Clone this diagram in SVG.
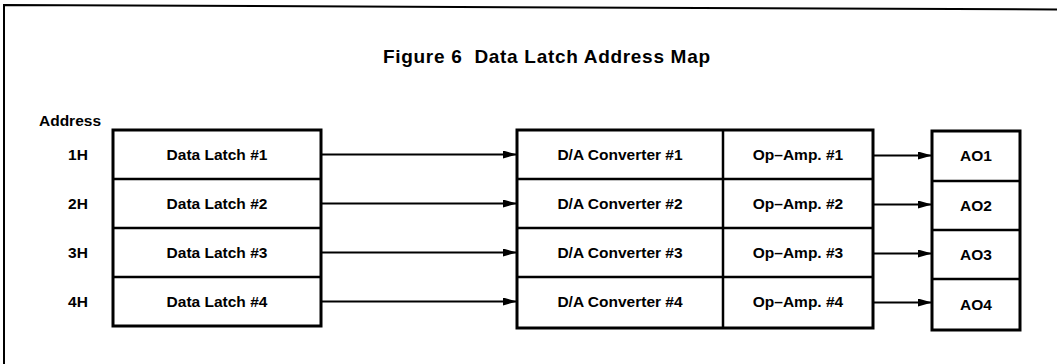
<svg xmlns="http://www.w3.org/2000/svg" width="1057" height="364" viewBox="0 0 1057 364">
  <defs>
    <style>
      .t { font-family: "Liberation Sans", Arial, sans-serif; font-weight: bold; font-size: 15.5px; fill: #000; text-anchor: middle; }
      .title { font-family: "Liberation Sans", Arial, sans-serif; font-weight: bold; font-size: 19px; fill: #000; white-space: pre; }
      .box { fill: #fff; stroke: #000; stroke-width: 3; }
      .div { stroke: #000; stroke-width: 2.5; fill: none; }
      .arrow { stroke: #000; stroke-width: 2; fill: none; marker-end: url(#ah); }
      .frame { stroke: #000; stroke-width: 2; fill: none; }
    </style>
    <marker id="ah" markerWidth="14" markerHeight="8" refX="14" refY="4" orient="auto" markerUnits="userSpaceOnUse">
      <path d="M0,0 L14,4 L0,8 Z" fill="#000"/>
    </marker>
  </defs>
  <rect width="1057" height="364" fill="#fff"/>
  <g id="frame">
    <path class="frame" d="M1057,9.5 L4,5 L4,364"/>
  </g>
  <text class="title" x="383" y="63" textLength="327" lengthAdjust="spacing" xml:space="preserve">Figure 6  Data Latch Address Map</text>
  <g id="address-labels">
    <text class="t" x="70" y="126">Address</text>
    <text class="t" x="78" y="160">1H</text>
    <text class="t" x="78" y="209">2H</text>
    <text class="t" x="78" y="258">3H</text>
    <text class="t" x="78" y="307">4H</text>
  </g>
  <g id="data-latches">
    <rect class="box" x="113" y="130" width="208" height="196"/>
    <path class="div" d="M113,179 H321 M113,228 H321 M113,277 H321"/>
    <text class="t" x="217" y="160">Data Latch #1</text>
    <text class="t" x="217" y="209">Data Latch #2</text>
    <text class="t" x="217" y="258">Data Latch #3</text>
    <text class="t" x="217" y="307">Data Latch #4</text>
  </g>
  <g id="converters">
    <rect class="box" x="517" y="130" width="356" height="198"/>
    <path class="div" d="M723,130 V328 M517,179 H873 M517,228 H873 M517,277 H873"/>
    <text class="t" x="620" y="160">D/A Converter #1</text>
    <text class="t" x="620" y="209">D/A Converter #2</text>
    <text class="t" x="620" y="258">D/A Converter #3</text>
    <text class="t" x="620" y="307">D/A Converter #4</text>
    <text class="t" x="798" y="160">Op–Amp. #1</text>
    <text class="t" x="798" y="209">Op–Amp. #2</text>
    <text class="t" x="798" y="258">Op–Amp. #3</text>
    <text class="t" x="798" y="307">Op–Amp. #4</text>
  </g>
  <g id="outputs">
    <rect class="box" x="932" y="131" width="88" height="199"/>
    <path class="div" d="M932,181 H1020 M932,230 H1020 M932,279 H1020"/>
    <text class="t" x="976" y="161">AO1</text>
    <text class="t" x="976" y="211">AO2</text>
    <text class="t" x="976" y="260">AO3</text>
    <text class="t" x="976" y="310">AO4</text>
  </g>
  <g id="connectors">
    <line class="arrow" x1="321" y1="154.5" x2="517" y2="154.5"/>
    <line class="arrow" x1="321" y1="203.5" x2="517" y2="203.5"/>
    <line class="arrow" x1="321" y1="252.5" x2="517" y2="252.5"/>
    <line class="arrow" x1="321" y1="301.5" x2="517" y2="301.5"/>
    <line class="arrow" x1="873" y1="155.5" x2="932" y2="155.5"/>
    <line class="arrow" x1="873" y1="204.5" x2="932" y2="204.5"/>
    <line class="arrow" x1="873" y1="253.5" x2="932" y2="253.5"/>
    <line class="arrow" x1="873" y1="302.5" x2="932" y2="302.5"/>
  </g>
</svg>
